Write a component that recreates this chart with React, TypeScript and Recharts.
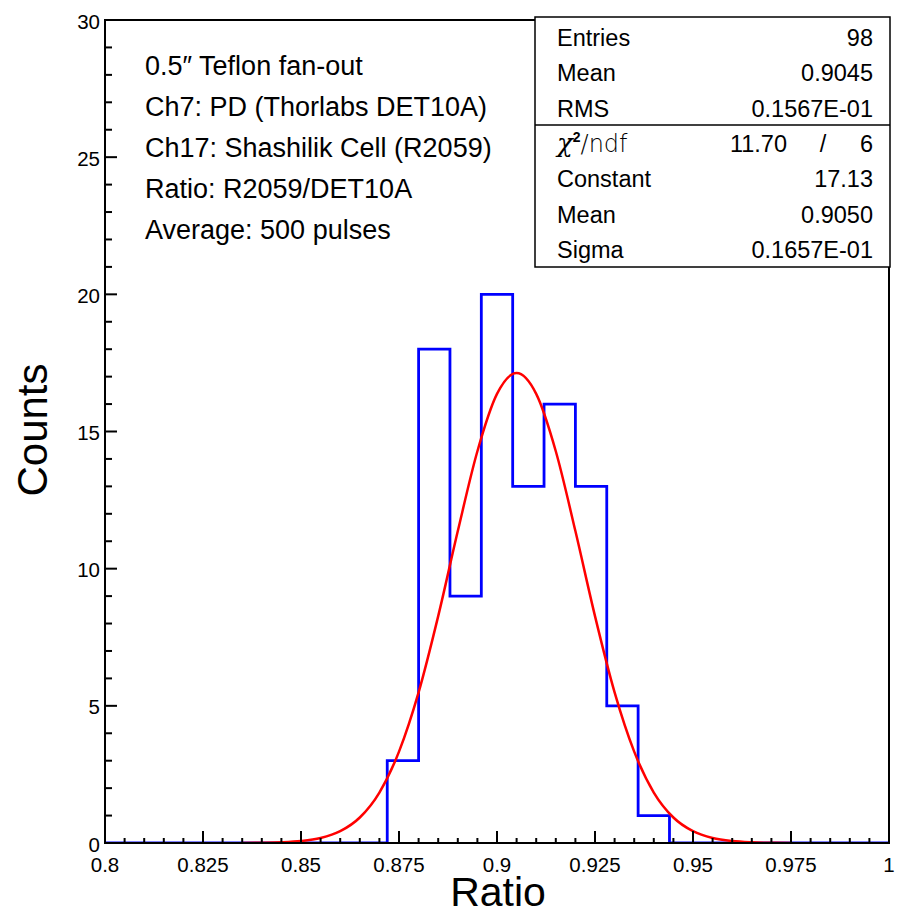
import React from 'react';
import { ComposedChart, Line, XAxis, YAxis, ReferenceArea } from 'recharts';

// histogram: 25 bins of 0.008 between 0.8 and 1.0
const binStart = 0.8;
const binWidth = 0.008;
const counts = [0, 0, 0, 0, 0, 0, 0, 0, 0, 3, 18, 9, 20, 13, 16, 13, 5, 1, 0, 0, 0, 0, 0, 0, 0];

// gaussian fit curve
const fitX = [
  0.835, 0.84, 0.845, 0.85, 0.855, 0.86, 0.865, 0.87, 0.875, 0.88, 0.885, 0.89, 0.895, 0.9, 0.905,
  0.91, 0.915, 0.92, 0.925, 0.93, 0.935, 0.94, 0.945, 0.95, 0.955, 0.96, 0.965, 0.97, 0.975,
];
const fitY = [
  0.002, 0.008, 0.024, 0.069, 0.18, 0.43, 0.93, 1.84, 3.33, 5.49, 8.27, 11.37, 14.28, 16.37, 17.13,
  16.37, 14.28, 11.37, 8.27, 5.49, 3.33, 1.84, 0.93, 0.43, 0.18, 0.069, 0.024, 0.008, 0.002,
];

const xMajorLabels = ['0.8', '0.825', '0.85', '0.875', '0.9', '0.925', '0.95', '0.975', '1'];
const yMajorLabels = ['0', '5', '10', '15', '20', '25', '30'];

const infoLines = [
  '0.5\u2033 Teflon fan-out',
  'Ch7: PD (Thorlabs DET10A)',
  'Ch17: Shashilik Cell (R2059)',
  'Ratio: R2059/DET10A',
  'Average: 500 pulses',
];

const statsTop = [
  ['Entries', '98'],
  ['Mean', '0.9045'],
  ['RMS', '0.1567E-01'],
];
const chi2 = '11.70';
const ndf = '6';
const statsFit = [
  ['Constant', '17.13'],
  ['Mean', '0.9050'],
  ['Sigma', '0.1657E-01'],
];

const histData = [
  ...counts.map((c, i) => ({ x: binStart + i * binWidth, h: c })),
  { x: 1, h: 0 },
];
const fitData = fitX.map((x, i) => ({ x, f: fitY[i] }));

const xTicks = Array.from({ length: 41 }, (_, i) => +(0.8 + i * 0.005).toFixed(3));
const yTicks = Array.from({ length: 31 }, (_, i) => i);

const FONT = '"Liberation Sans", Arial, Helvetica, sans-serif';

const XTick = (props: any) => {
  const { x, y, index } = props;
  const major = index % 5 === 0;
  return (
    <g>
      <line x1={x} y1={y} x2={x} y2={y - (major ? 12 : 5)} stroke="#000" strokeWidth={2} />
      {major && (
        <text x={x} y={y + 29} textAnchor="middle" fontSize={20.5} fontFamily={FONT} fill="#000">
          {xMajorLabels[index / 5]}
        </text>
      )}
    </g>
  );
};

const YTick = (props: any) => {
  const { x, y, payload } = props;
  const major = payload.value % 5 === 0;
  return (
    <g>
      <line x1={x} y1={y} x2={x + (major ? 12 : 7)} y2={y} stroke="#000" strokeWidth={2} />
      {major && (
        <text x={x - 5} y={y + 8.5} textAnchor="end" fontSize={20.5} fontFamily={FONT} fill="#000">
          {yMajorLabels[payload.value / 5]}
        </text>
      )}
    </g>
  );
};

export default function App() {
  const rowY = (i: number) => 46 + i * 35.3;
  return (
    <div style={{ position: 'absolute', left: 0, top: 0, width: 897, height: 914, background: '#fff' }}>
      <ComposedChart width={897} height={914} margin={{ top: 20, right: 8, left: 0, bottom: 0 }}>
        <XAxis
          type="number"
          dataKey="x"
          domain={[0.8, 1]}
          ticks={xTicks}
          interval={0}
          height={71}
          tickSize={0}
          tickMargin={0}
          tickLine={false}
          tick={<XTick />}
          axisLine={{ stroke: '#000', strokeWidth: 2 }}
          allowDataOverflow
        />
        <YAxis
          type="number"
          domain={[0, 30]}
          ticks={yTicks}
          interval={0}
          width={105}
          tickSize={0}
          tickMargin={0}
          tickLine={false}
          tick={<YTick />}
          axisLine={{ stroke: '#000', strokeWidth: 2 }}
          allowDataOverflow
        />
        <ReferenceArea x1={0.8} x2={1} y1={0} y2={30} fill="none" stroke="#000" strokeWidth={2} ifOverflow="visible" />
        <Line
          data={histData}
          dataKey="h"
          type="stepAfter"
          stroke="#0000ff"
          strokeWidth={2.8}
          dot={false}
          isAnimationActive={false}
        />
        <Line
          data={fitData}
          dataKey="f"
          type="monotone"
          stroke="#ff0000"
          strokeWidth={2.5}
          dot={false}
          isAnimationActive={false}
        />
      </ComposedChart>

      <svg
        width={897}
        height={914}
        style={{ position: 'absolute', left: 0, top: 0, pointerEvents: 'none' }}
        fontFamily={FONT}
      >
        {infoLines.map((t, i) => (
          <text key={t} x={145} y={75 + i * 41} fontSize={27} fill="#000">
            {t}
          </text>
        ))}

        <rect x={535} y={17} width={355} height={250} fill="#fff" stroke="#000" strokeWidth={1.5} />
        <line x1={535} y1={125} x2={890} y2={125} stroke="#000" strokeWidth={1.5} />
        {statsTop.map(([k, v], i) => (
          <g key={'t' + i}>
            <text x={557} y={rowY(i)} fontSize={23.5} fill="#000">{k}</text>
            <text x={873} y={rowY(i)} fontSize={23.5} textAnchor="end" fill="#000">{v}</text>
          </g>
        ))}
        <text x={557} y={rowY(3)} fontSize={24} fill="#000">
          <tspan fontFamily="'DejaVu Serif', serif" fontStyle="italic" fontSize={26}>χ</tspan>
          <tspan dy={-10} fontSize={14} fontWeight="bold">2</tspan>
          <tspan dy={10} fontFamily="'DejaVu Sans', sans-serif" fontWeight={300}>/ndf</tspan>
        </text>
        <text x={787} y={rowY(3)} fontSize={23.5} textAnchor="end" fill="#000">{chi2}</text>
        <text x={823} y={rowY(3)} fontSize={23.5} textAnchor="middle" fill="#000">/</text>
        <text x={873} y={rowY(3)} fontSize={23.5} textAnchor="end" fill="#000">{ndf}</text>
        {statsFit.map(([k, v], i) => (
          <g key={'f' + i}>
            <text x={557} y={rowY(i + 4)} fontSize={23.5} fill="#000">{k}</text>
            <text x={873} y={rowY(i + 4)} fontSize={23.5} textAnchor="end" fill="#000">{v}</text>
          </g>
        ))}

        <text x={47} y={430} fontSize={42} textAnchor="middle" fill="#000" transform="rotate(-90 47 430)">
          Counts
        </text>
        <text x={498} y={906} fontSize={41} textAnchor="middle" fill="#000">
          Ratio
        </text>
      </svg>
    </div>
  );
}
